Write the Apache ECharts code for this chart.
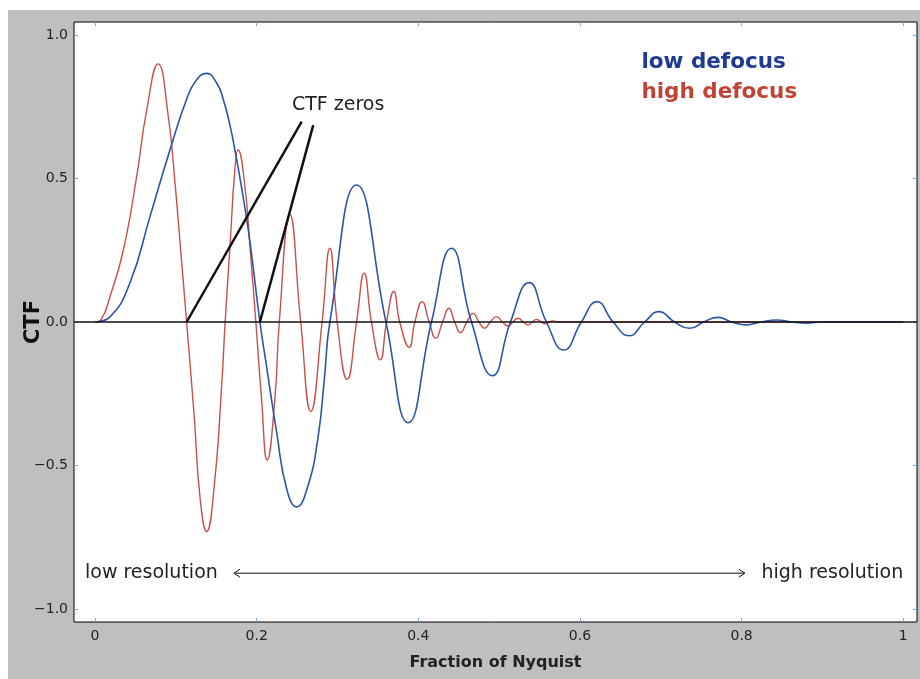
<!DOCTYPE html>
<html><head><meta charset="utf-8">
<script src="https://cdn.jsdelivr.net/npm/echarts@6/dist/echarts.min.js"></script>
<style>
html,body{margin:0;padding:0;background:#fff;}
#wrap{position:absolute;left:8px;top:10px;width:912px;height:669px;background:#bfbfbf;}
#chart{width:912px;height:669px;}
</style>
</head><body><div id="wrap"><div id="chart"></div></div>
<script>
const xTicks = [0, 0.2, 0.4, 0.6, 0.8, 1];
const yTicks = [-1, -0.5, 0, 0.5, 1];

const highDefocus = [
  [0,0],[0.008,0.01],[0.0185,0.088],[0.035,0.25],[0.0515,0.506],[0.064,0.739],[0.078,0.899],
  [0.0907,0.715],[0.099,0.483],[0.106,0.25],[0.1133,0],[0.1226,-0.324],[0.13,-0.614],[0.138,-0.73],
  [0.148,-0.556],[0.157,-0.208],[0.161,0],[0.167,0.262],[0.173,0.53],[0.177,0.599],[0.1855,0.471],
  [0.1917,0.262],[0.199,0],[0.206,-0.266],[0.213,-0.481],[0.2226,-0.266],[0.228,0],[0.241,0.375],
  [0.2545,0],[0.267,-0.312],[0.281,0],[0.2906,0.257],[0.2996,0],[0.312,-0.20],[0.3236,0],
  [0.333,0.17],[0.342,0],[0.353,-0.132],[0.3607,0],[0.3697,0.106],[0.377,0],[0.3887,-0.088],
  [0.3957,0],[0.4047,0.071],[0.4134,0],[0.4216,-0.057],[0.43,0],[0.4377,0.048],[0.445,0],
  [0.4522,-0.037],[0.46,0],[0.4678,0.030],[0.475,0],[0.482,-0.022],[0.489,0],[0.4967,0.0186],
  [0.504,0],[0.511,-0.014],[0.517,0],[0.5234,0.013],[0.53,0],[0.536,-0.010],[0.541,0],
  [0.546,0.009],[0.552,0],[0.557,-0.006],[0.562,0],[0.567,0.004],[0.572,0],[0.65,0],[1.0,0]
];

const lowDefocus = [
  [0,0],[0.0185,0.018],[0.043,0.135],[0.068,0.367],[0.0927,0.599],[0.113,0.773],[0.125,0.841],
  [0.138,0.866],[0.151,0.83],[0.1587,0.775],[0.167,0.685],[0.175,0.57],[0.183,0.44],[0.1917,0.28],
  [0.204,0],
  [0.212,-0.15],[0.2246,-0.382],[0.237,-0.58],[0.2494,-0.644],[0.263,-0.575],[0.276,-0.40],
  [0.284,-0.19],[0.2906,0],[0.3236,0.477],[0.360,0],
  [0.3874,-0.351],[0.4163,0],[0.441,0.257],[0.4658,0],
  [0.4917,-0.187],[0.514,0],[0.537,0.137],[0.5585,0],[0.580,-0.0976],[0.6018,0],[0.621,0.071],
  [0.641,0],[0.6607,-0.048],[0.68,0],[0.6978,0.036],[0.717,0],[0.7357,-0.022],[0.753,0],
  [0.7707,0.016],[0.788,0],[0.8058,-0.010],[0.824,0],[0.843,0.007],[0.862,0],[0.88,-0.004],
  [0.9,0],[1.0,0]
];

// annotation: CTF zeros pointer lines (from zero point to label)
const zeroPoints = [[0.1133, 0], [0.204, 0]];
const pointerTips = [[0.2557, 0.698], [0.27, 0.686]];

const FONT = "'DejaVu Sans', sans-serif";
const tickColor = '#7ea6cf';

const chart = echarts.init(document.getElementById('chart'), null, {renderer: 'canvas'});

const fmtX = v => (v === 0 ? '0' : v === 1 ? '1' : v.toFixed(1));
const fmtY = v => v.toFixed(1).replace('-', '\u2212');

chart.setOption({
  animation: false,
  backgroundColor: 'transparent',
  grid: {left: 66, top: 12, right: 3, bottom: 57, show: true, backgroundColor: '#ffffff',
         borderColor: '#000000', borderWidth: 1, containLabel: false, outerBoundsMode: 'none'},
  xAxis: [{
    type: 'value', min: -0.026, max: 1.017,
    axisLine: {show: false, onZero: false},
    splitLine: {show: false},
    axisTick: {show: true, inside: true, length: 4, customValues: xTicks, lineStyle: {color: tickColor}},
    axisLabel: {customValues: xTicks, formatter: fmtX, color: '#222', fontFamily: FONT, fontSize: 14, margin: 7},
    name: 'Fraction of Nyquist', nameLocation: 'middle', nameGap: 33, nameMoveOverlap: false,
    nameTextStyle: {fontFamily: FONT, fontWeight: 'bold', fontSize: 16, color: '#222'}
  }, {
    type: 'value', min: -0.026, max: 1.017, position: 'top',
    axisLine: {show: false, onZero: false}, splitLine: {show: false},
    axisTick: {show: true, inside: true, length: 4, customValues: xTicks, lineStyle: {color: tickColor}},
    axisLabel: {show: false}
  }],
  yAxis: [{
    type: 'value', min: -1.045, max: 1.045,
    axisLine: {show: false, onZero: false},
    splitLine: {show: false},
    axisTick: {show: true, inside: true, length: 4, customValues: yTicks, lineStyle: {color: tickColor}},
    axisLabel: {customValues: yTicks, formatter: fmtY, color: '#222', fontFamily: FONT, fontSize: 14, margin: 6},
    name: 'CTF', nameLocation: 'middle', nameGap: 30, nameRotate: 90, nameMoveOverlap: false,
    nameTextStyle: {fontFamily: FONT, fontWeight: 'bold', fontSize: 21, color: '#111'}
  }, {
    type: 'value', min: -1.045, max: 1.045, position: 'right',
    axisLine: {show: false, onZero: false}, splitLine: {show: false},
    axisTick: {show: true, inside: true, length: 4, customValues: yTicks, lineStyle: {color: tickColor}},
    axisLabel: {show: false}
  }],
  series: [{
    name: 'high defocus', type: 'line', data: highDefocus, smooth: 0.5, showSymbol: false,
    lineStyle: {color: '#c8504a', width: 1.4}, z: 2, silent: true
  }, {
    name: 'low defocus', type: 'line', data: lowDefocus, smooth: 0.5, showSymbol: false,
    lineStyle: {color: '#2c55a8', width: 1.6}, z: 3, silent: true,
    markLine: {
      silent: true, symbol: ['none', 'none'], label: {show: false},
      data: [
        {yAxis: 0, lineStyle: {color: '#111', width: 1.5, type: 'solid'}},
        [{coord: zeroPoints[0], lineStyle: {color: '#111', width: 2.5, type: 'solid'}}, {coord: pointerTips[0]}],
        [{coord: zeroPoints[1], lineStyle: {color: '#111', width: 2.5, type: 'solid'}}, {coord: pointerTips[1]}]
      ]
    }
  }]
});

const P = (x, y) => chart.convertToPixel({xAxisIndex: 0, yAxisIndex: 0}, [x, y]);
const g = [];
function txt(x, y, text, opts) {
  const p = P(x, y);
  g.push({type: 'text', x: p[0], y: p[1], z: 100, style: Object.assign({
    text: text, fontFamily: FONT, fontSize: 19, fill: '#222', textAlign: 'left', textVerticalAlign: 'middle'
  }, opts || {})});
}
txt(0.2436, 0.754, 'CTF zeros');
txt(0.676, 0.904, 'low defocus', {fontWeight: 'bold', fontSize: 21.5, fill: '#1f3a93'});
txt(0.676, 0.800, 'high defocus', {fontWeight: 'bold', fontSize: 21.5, fill: '#bf4436'});
txt(-0.0124, -0.875, 'low resolution');
txt(1.0, -0.875, 'high resolution', {textAlign: 'right'});

// double-headed arrow
const a1 = P(0.172, -0.875), a2 = P(0.804, -0.875);
g.push({type: 'line', z: 100, shape: {x1: a1[0], y1: a1[1], x2: a2[0], y2: a2[1]}, style: {stroke: '#111', lineWidth: 1}});
g.push({type: 'polyline', z: 100, shape: {points: [[a1[0] + 6, a1[1] - 4], [a1[0], a1[1]], [a1[0] + 6, a1[1] + 4]]}, style: {stroke: '#111', lineWidth: 1, fill: null}});
g.push({type: 'polyline', z: 100, shape: {points: [[a2[0] - 6, a2[1] - 4], [a2[0], a2[1]], [a2[0] - 6, a2[1] + 4]]}, style: {stroke: '#111', lineWidth: 1, fill: null}});
chart.setOption({graphic: g});
</script>
</body></html>
